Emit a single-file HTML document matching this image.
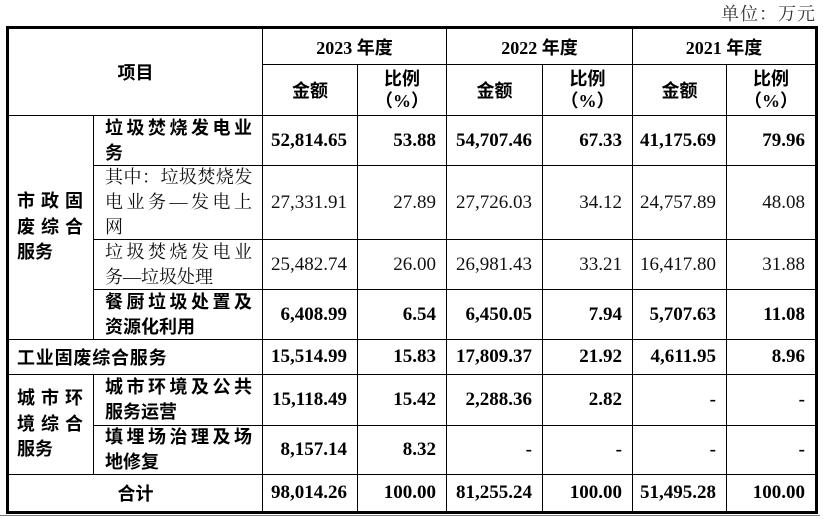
<!DOCTYPE html>
<html>
<head>
<meta charset="utf-8">
<style>
  html,body{margin:0;padding:0;background:#fff;}
  body{width:823px;height:519px;position:relative;overflow:hidden;}
  .l{position:absolute;background:#000;}
  .c{position:absolute;display:flex;align-items:center;box-sizing:border-box;color:#000;}
  .r{justify-content:flex-end;padding-right:10px;}
  .m{justify-content:center;text-align:center;}
  .n{font-family:"Liberation Serif",serif;font-size:19px;font-weight:bold;white-space:nowrap;}
  .nr{font-family:"Liberation Serif",serif;font-size:19px;font-weight:normal;white-space:nowrap;color:#111;}
  .b{font-family:"Liberation Serif","Noto Sans CJK SC",sans-serif;font-size:18px;font-weight:bold;white-space:nowrap;}
  .s{font-family:"Liberation Serif","Noto Serif CJK SC",serif;font-size:18px;font-weight:normal;white-space:nowrap;color:#111;}
  .it{padding-left:11px;}
  .it > div > div{line-height:25px;height:25px;}
  .j{width:147px;text-align:justify;text-align-last:justify;}
  .k > div > div{line-height:25.5px;height:25.5px;}
  .kj{width:66px;text-align:justify;text-align-last:justify;}
  .hd > div > div{line-height:22px;height:22px;}
</style>
</head>
<body>
<!-- unit -->
<div style="position:absolute;left:721px;top:4px;line-height:20px;font-family:'Liberation Serif','Noto Serif CJK SC',serif;font-size:18px;letter-spacing:1px;color:#333;white-space:nowrap;">单位：万元</div>

<!-- outer borders -->
<div class="l" style="left:6px;top:26px;width:3px;height:488px;"></div>
<div class="l" style="left:6px;top:26px;width:812px;height:3px;"></div>
<div class="l" style="left:815px;top:26px;width:3px;height:488px;"></div>
<div class="l" style="left:6px;top:511px;width:812px;height:3px;"></div>
<div style="position:absolute;left:0;top:515px;width:820px;height:1px;background:#4a86c8;"></div>

<!-- vertical lines -->
<div class="l" style="left:93px;top:115px;width:1px;height:224px;"></div>
<div class="l" style="left:93px;top:374px;width:1px;height:100px;"></div>
<div class="l" style="left:262px;top:29px;width:1px;height:482px;"></div>
<div class="l" style="left:357px;top:64px;width:1px;height:447px;"></div>
<div class="l" style="left:446px;top:29px;width:1px;height:482px;"></div>
<div class="l" style="left:542px;top:64px;width:1px;height:447px;"></div>
<div class="l" style="left:632px;top:29px;width:1px;height:482px;"></div>
<div class="l" style="left:726px;top:64px;width:1px;height:447px;"></div>

<!-- horizontal lines -->
<div class="l" style="left:262px;top:64px;width:553px;height:1px;"></div>
<div class="l" style="left:9px;top:115px;width:806px;height:1px;"></div>
<div class="l" style="left:93px;top:165px;width:722px;height:1px;"></div>
<div class="l" style="left:93px;top:239px;width:722px;height:1px;"></div>
<div class="l" style="left:93px;top:289px;width:722px;height:1px;"></div>
<div class="l" style="left:9px;top:339px;width:806px;height:1px;"></div>
<div class="l" style="left:9px;top:374px;width:806px;height:1px;"></div>
<div class="l" style="left:93px;top:425px;width:722px;height:1px;"></div>
<div class="l" style="left:9px;top:474px;width:806px;height:1px;"></div>

<!-- header -->
<div class="c m b" style="left:9px;top:29px;width:253px;height:86px;">项目</div>
<div class="c m b" style="left:263px;top:29px;width:183px;height:35px;">2023 年度</div>
<div class="c m b" style="left:447px;top:29px;width:185px;height:35px;">2022 年度</div>
<div class="c m b" style="left:633px;top:29px;width:182px;height:35px;">2021 年度</div>

<div class="c m b" style="left:263px;top:65px;width:94px;height:50px;">金额</div>
<div class="c m b hd" style="left:358px;top:65px;width:88px;height:50px;"><div style="width:100%"><div>比例</div><div>（%）</div></div></div>
<div class="c m b" style="left:447px;top:65px;width:95px;height:50px;">金额</div>
<div class="c m b hd" style="left:543px;top:65px;width:89px;height:50px;"><div style="width:100%"><div>比例</div><div>（%）</div></div></div>
<div class="c m b" style="left:633px;top:65px;width:93px;height:50px;">金额</div>
<div class="c m b hd" style="left:727px;top:65px;width:88px;height:50px;"><div style="width:100%"><div>比例</div><div>（%）</div></div></div>

<!-- column 1 categories -->
<div class="c b k" style="left:9px;top:116px;width:84px;height:223px;padding-left:8px;">
  <div><div class="kj">市政固</div><div class="kj">废综合</div><div>服务</div></div>
</div>
<div class="c b" style="left:9px;top:340px;width:253px;height:34px;padding-left:8px;letter-spacing:0.8px;">工业固废综合服务</div>
<div class="c b k" style="left:9px;top:375px;width:84px;height:99px;padding-left:8px;">
  <div><div class="kj">城市环</div><div class="kj">境综合</div><div>服务</div></div>
</div>
<div class="c m b" style="left:9px;top:475px;width:253px;height:36px;">合计</div>

<!-- item column -->
<div class="c b it" style="left:94px;top:116px;width:168px;height:49px;">
  <div><div class="j">垃圾焚烧发电业</div><div>务</div></div>
</div>
<div class="c s it" style="left:94px;top:166px;width:168px;height:73px;">
  <div><div class="j" style="letter-spacing:-0.4px;">其中：垃圾焚烧发</div><div class="j">电业务—发电上</div><div>网</div></div>
</div>
<div class="c s it" style="left:94px;top:240px;width:168px;height:49px;">
  <div><div class="j">垃圾焚烧发电业</div><div>务—垃圾处理</div></div>
</div>
<div class="c b it" style="left:94px;top:290px;width:168px;height:49px;">
  <div><div class="j">餐厨垃圾处置及</div><div>资源化利用</div></div>
</div>
<div class="c b it" style="left:94px;top:375px;width:168px;height:50px;">
  <div><div class="j">城市环境及公共</div><div>服务运营</div></div>
</div>
<div class="c b it" style="left:94px;top:426px;width:168px;height:48px;">
  <div><div class="j">填埋场治理及场</div><div>地修复</div></div>
</div>

<!-- row 1 -->
<div class="c r n" style="left:263px;top:116px;width:94px;height:49px;">52,814.65</div>
<div class="c r n" style="left:358px;top:116px;width:88px;height:49px;">53.88</div>
<div class="c r n" style="left:447px;top:116px;width:95px;height:49px;">54,707.46</div>
<div class="c r n" style="left:543px;top:116px;width:89px;height:49px;">67.33</div>
<div class="c r n" style="left:633px;top:116px;width:93px;height:49px;">41,175.69</div>
<div class="c r n" style="left:727px;top:116px;width:88px;height:49px;">79.96</div>

<!-- row 2 -->
<div class="c r nr" style="left:263px;top:166px;width:94px;height:73px;">27,331.91</div>
<div class="c r nr" style="left:358px;top:166px;width:88px;height:73px;">27.89</div>
<div class="c r nr" style="left:447px;top:166px;width:95px;height:73px;">27,726.03</div>
<div class="c r nr" style="left:543px;top:166px;width:89px;height:73px;">34.12</div>
<div class="c r nr" style="left:633px;top:166px;width:93px;height:73px;">24,757.89</div>
<div class="c r nr" style="left:727px;top:166px;width:88px;height:73px;">48.08</div>

<!-- row 3 -->
<div class="c r nr" style="left:263px;top:240px;width:94px;height:49px;">25,482.74</div>
<div class="c r nr" style="left:358px;top:240px;width:88px;height:49px;">26.00</div>
<div class="c r nr" style="left:447px;top:240px;width:95px;height:49px;">26,981.43</div>
<div class="c r nr" style="left:543px;top:240px;width:89px;height:49px;">33.21</div>
<div class="c r nr" style="left:633px;top:240px;width:93px;height:49px;">16,417.80</div>
<div class="c r nr" style="left:727px;top:240px;width:88px;height:49px;">31.88</div>

<!-- row 4 -->
<div class="c r n" style="left:263px;top:290px;width:94px;height:49px;">6,408.99</div>
<div class="c r n" style="left:358px;top:290px;width:88px;height:49px;">6.54</div>
<div class="c r n" style="left:447px;top:290px;width:95px;height:49px;">6,450.05</div>
<div class="c r n" style="left:543px;top:290px;width:89px;height:49px;">7.94</div>
<div class="c r n" style="left:633px;top:290px;width:93px;height:49px;">5,707.63</div>
<div class="c r n" style="left:727px;top:290px;width:88px;height:49px;">11.08</div>

<!-- row 5 -->
<div class="c r n" style="left:263px;top:340px;width:94px;height:34px;">15,514.99</div>
<div class="c r n" style="left:358px;top:340px;width:88px;height:34px;">15.83</div>
<div class="c r n" style="left:447px;top:340px;width:95px;height:34px;">17,809.37</div>
<div class="c r n" style="left:543px;top:340px;width:89px;height:34px;">21.92</div>
<div class="c r n" style="left:633px;top:340px;width:93px;height:34px;">4,611.95</div>
<div class="c r n" style="left:727px;top:340px;width:88px;height:34px;">8.96</div>

<!-- row 6 -->
<div class="c r n" style="left:263px;top:375px;width:94px;height:50px;">15,118.49</div>
<div class="c r n" style="left:358px;top:375px;width:88px;height:50px;">15.42</div>
<div class="c r n" style="left:447px;top:375px;width:95px;height:50px;">2,288.36</div>
<div class="c r n" style="left:543px;top:375px;width:89px;height:50px;">2.82</div>
<div class="c r n" style="left:633px;top:375px;width:93px;height:50px;">-</div>
<div class="c r n" style="left:727px;top:375px;width:88px;height:50px;">-</div>

<!-- row 7 -->
<div class="c r n" style="left:263px;top:426px;width:94px;height:48px;">8,157.14</div>
<div class="c r n" style="left:358px;top:426px;width:88px;height:48px;">8.32</div>
<div class="c r n" style="left:447px;top:426px;width:95px;height:48px;">-</div>
<div class="c r n" style="left:543px;top:426px;width:89px;height:48px;">-</div>
<div class="c r n" style="left:633px;top:426px;width:93px;height:48px;">-</div>
<div class="c r n" style="left:727px;top:426px;width:88px;height:48px;">-</div>

<!-- row 8 -->
<div class="c r n" style="left:263px;top:475px;width:94px;height:36px;">98,014.26</div>
<div class="c r n" style="left:358px;top:475px;width:88px;height:36px;">100.00</div>
<div class="c r n" style="left:447px;top:475px;width:95px;height:36px;">81,255.24</div>
<div class="c r n" style="left:543px;top:475px;width:89px;height:36px;">100.00</div>
<div class="c r n" style="left:633px;top:475px;width:93px;height:36px;">51,495.28</div>
<div class="c r n" style="left:727px;top:475px;width:88px;height:36px;">100.00</div>
</body>
</html>
